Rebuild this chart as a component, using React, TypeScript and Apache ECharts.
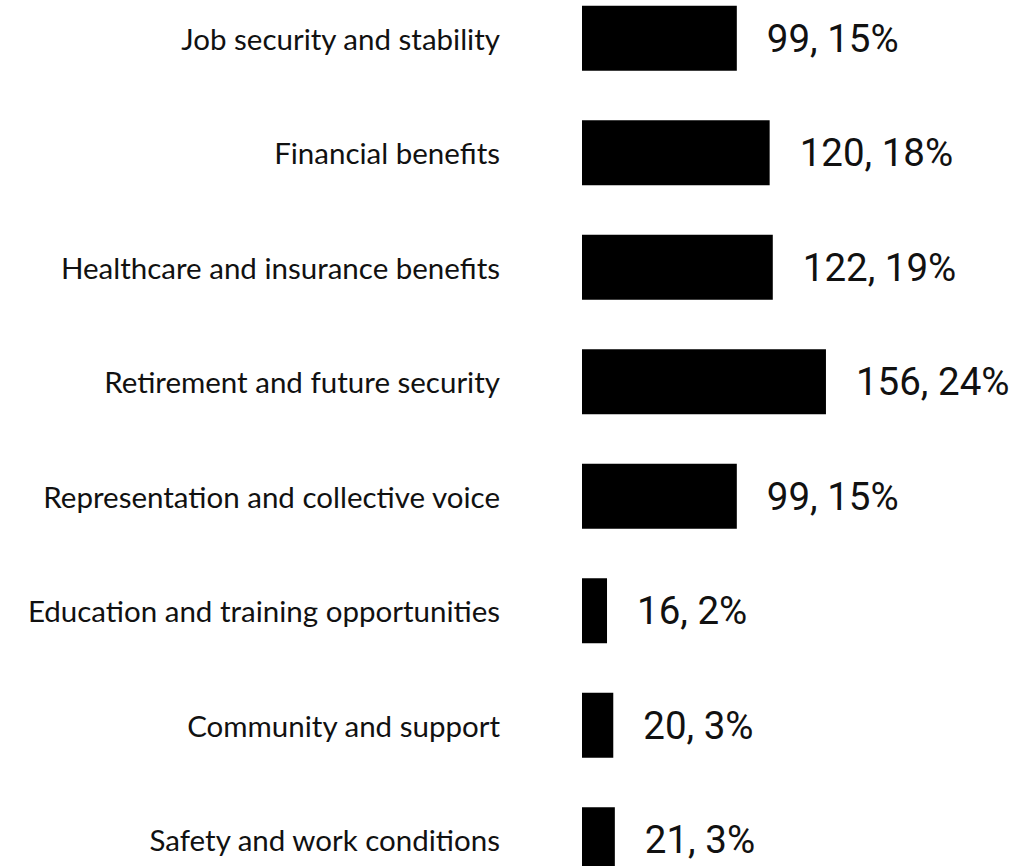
import React, { useEffect, useRef } from "react";
import * as echarts from "echarts";

const categories = [
  "Job security and stability",
  "Financial benefits",
  "Healthcare and insurance benefits",
  "Retirement and future security",
  "Representation and collective voice",
  "Education and training opportunities",
  "Community and support",
  "Safety and work conditions",
];
const counts = [99, 120, 122, 156, 99, 16, 20, 21];
const percents = [15, 18, 19, 24, 15, 2, 3, 3];

export default function App() {
  const ref = useRef<HTMLDivElement>(null);
  useEffect(() => {
    if (!ref.current) return;
    const chart = echarts.init(ref.current, null, { renderer: "svg" });
    chart.setOption({
      animation: false,
      backgroundColor: "#ffffff",
      grid: { left: 582, right: 0, top: 0, height: 916, containLabel: false },
      xAxis: {
        type: "value",
        min: 0,
        max: 282,
        show: false,
      },
      yAxis: {
        type: "category",
        data: categories,
        inverse: true,
        axisLine: { show: false },
        axisTick: { show: false },
        splitLine: { show: false },
        axisLabel: {
          margin: 82,
          color: "#111111",
          fontFamily: "Lato",
          fontSize: 29.5,
        },
      },
      series: [
        {
          type: "bar",
          data: counts,
          barWidth: 65,
          itemStyle: { color: "#000000" },
          label: {
            show: true,
            position: "right",
            distance: 30,
            color: "#111111",
            fontFamily: "Roboto",
            fontSize: 38.5,
            formatter: (p: any) => `${counts[p.dataIndex]}, ${percents[p.dataIndex]}%`,
          },
        },
      ],
    });
    return () => chart.dispose();
  }, []);
  return (
    <div style={{ position: "fixed", left: 0, top: 0, width: 1023, height: 866, overflow: "hidden", background: "#fff" }}>
      <div
        ref={ref}
        style={{ position: "absolute", left: 0, top: -19, width: 1023, height: 936 }}
      />
    </div>
  );
}
